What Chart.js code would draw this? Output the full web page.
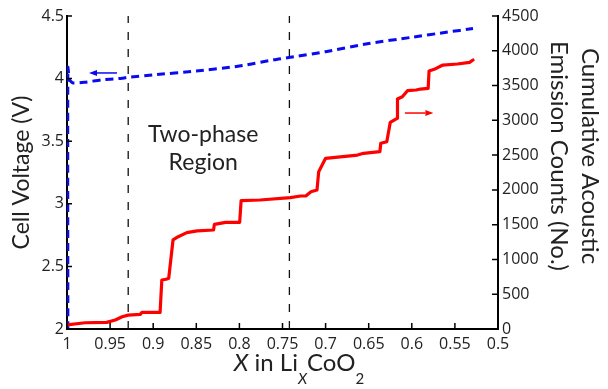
<!DOCTYPE html>
<html>
<head>
<meta charset="utf-8">
<script src="https://cdn.jsdelivr.net/npm/chart.js@4/dist/chart.umd.min.js"></script>
<style>
  html, body { margin: 0; padding: 0; background: #fff; }
  #wrap { width: 608px; height: 389px; }
</style>
</head>
<body>
<div id="wrap"><canvas id="c" width="608" height="389"></canvas></div>
<script>
// Lithium content x in LixCoO2 and cell voltage (V)
const voltageX = [0.999, 0.999, 0.997, 0.993, 0.98, 0.96, 0.94, 0.929, 0.9, 0.85, 0.8, 0.76, 0.741, 0.7, 0.65, 0.6, 0.56, 0.529];
const voltageV = [2.0, 4.09, 3.99, 3.965, 3.97, 3.99, 4.0, 4.01, 4.03, 4.06, 4.10, 4.15, 4.17, 4.215, 4.28, 4.33, 4.37, 4.40];

// Cumulative acoustic emission counts against x
const aeX = [1.0, 0.979, 0.954, 0.944, 0.936, 0.929, 0.915, 0.913, 0.892, 0.890, 0.885, 0.882, 0.877, 0.871, 0.861, 0.849,
             0.830, 0.829, 0.816, 0.7997, 0.798, 0.776, 0.741, 0.729, 0.723, 0.717, 0.710, 0.708, 0.700, 0.663, 0.656,
             0.637, 0.636, 0.629, 0.625, 0.617, 0.6166, 0.611, 0.605, 0.595, 0.590, 0.581, 0.580, 0.574, 0.564, 0.547,
             0.533, 0.529];
const aeCounts = [58, 90, 95, 130, 177, 200, 210, 240, 240, 705, 715, 730, 1280, 1327, 1385, 1410,
                  1423, 1505, 1534, 1534, 1845, 1855, 1888, 1912, 1912, 1974, 1998, 2262, 2454, 2501, 2526,
                  2550, 2670, 2693, 2971, 3029, 3307, 3340, 3426, 3436, 3450, 3460, 3709, 3733, 3795, 3810,
                  3834, 3867];

// Boundaries of the two-phase region
const phaseBounds = [0.929, 0.742];

// Axis tick values
const xTicks = [1, 0.95, 0.9, 0.85, 0.8, 0.75, 0.7, 0.65, 0.6, 0.55, 0.5];
const voltTicks = [2, 2.5, 3, 3.5, 4, 4.5];
const countTicks = [0, 500, 1000, 1500, 2000, 2500, 3000, 3500, 4000, 4500];

const FONT = "'Open Sans', 'Liberation Sans', sans-serif";
const TFONT = "Lato, 'Open Sans', sans-serif";
const INK = '#222';

const toPts = (xs, ys) => xs.map((x, i) => ({ x: x, y: ys[i] }));

const datasets = [
  {
    label: 'Cumulative AE counts',
    data: toPts(aeX, aeCounts),
    yAxisID: 'y2',
    borderColor: '#ff0000',
    borderWidth: 3.2,
    pointRadius: 0,
    tension: 0,
    borderJoinStyle: 'round',
    borderCapStyle: 'round'
  },
  {
    label: 'Cell voltage',
    data: toPts(voltageX, voltageV),
    yAxisID: 'y',
    borderColor: '#0a0af0',
    borderWidth: 3,
    borderDash: [8, 5],
    pointRadius: 0,
    tension: 0.2
  }
];
phaseBounds.forEach(b => {
  datasets.push({
    label: 'boundary',
    data: [{ x: b, y: 2 }, { x: b, y: 4.5 }],
    yAxisID: 'y',
    borderColor: '#111',
    borderWidth: 1.3,
    borderDash: [8, 9],
    pointRadius: 0
  });
});

function fixSize(prop, size) {
  return function (scale) {
    scale[prop] = size;
    scale.paddingTop = 0; scale.paddingBottom = 0;
    scale.paddingLeft = 0; scale.paddingRight = 0;
  };
}

function arrow(ctx, x1, y1, x2, y2, color) {
  ctx.save();
  ctx.strokeStyle = color; ctx.fillStyle = color; ctx.lineWidth = 1.5;
  const ang = Math.atan2(y2 - y1, x2 - x1);
  const hx = x2 - 8 * Math.cos(ang), hy = y2 - 8 * Math.sin(ang);
  ctx.beginPath(); ctx.moveTo(x1, y1); ctx.lineTo(hx, hy); ctx.stroke();
  ctx.beginPath();
  ctx.moveTo(x2, y2);
  ctx.lineTo(hx - 3 * Math.sin(ang), hy + 3 * Math.cos(ang));
  ctx.lineTo(hx + 3 * Math.sin(ang), hy - 3 * Math.cos(ang));
  ctx.closePath(); ctx.fill();
  ctx.restore();
}

const decorations = {
  id: 'decorations',
  afterDraw(chart) {
    const { ctx, chartArea: a, scales } = chart;
    const sx = scales.x, sy = scales.y, sy2 = scales.y2;
    ctx.save();
    // inward tick marks
    ctx.strokeStyle = '#000'; ctx.lineWidth = 1.5;
    ctx.beginPath();
    xTicks.forEach(v => { const p = sx.getPixelForValue(v); ctx.moveTo(p, a.bottom); ctx.lineTo(p, a.bottom - 6); });
    voltTicks.forEach(v => { const p = sy.getPixelForValue(v); ctx.moveTo(a.left, p); ctx.lineTo(a.left + 5, p); });
    countTicks.forEach(v => { const p = sy2.getPixelForValue(v); ctx.moveTo(a.right, p); ctx.lineTo(a.right - 6, p); });
    ctx.stroke();

    // region label
    ctx.fillStyle = INK;
    ctx.font = '23px ' + TFONT;
    ctx.textAlign = 'center'; ctx.textBaseline = 'alphabetic';
    const cx = sx.getPixelForValue(0.842);
    ctx.fillText('Two-phase', cx, sy.getPixelForValue(3.494));
    ctx.fillText('Region', cx, sy.getPixelForValue(3.27));

    // axis arrows
    arrow(ctx, sx.getPixelForValue(0.942), sy.getPixelForValue(4.045),
               sx.getPixelForValue(0.9745), sy.getPixelForValue(4.045), '#0a0af0');
    arrow(ctx, sx.getPixelForValue(0.608), sy2.getPixelForValue(3105),
               sx.getPixelForValue(0.575), sy2.getPixelForValue(3105), '#ff0000');

    // left axis title
    ctx.font = '23px ' + TFONT;
    ctx.save();
    ctx.translate(29, (a.top + a.bottom) / 2);
    ctx.rotate(-Math.PI / 2);
    ctx.textAlign = 'center';
    ctx.fillText('Cell Voltage (V)', 0, 0);
    ctx.restore();

    // right axis title (two lines)
    ctx.font = '24px ' + TFONT;
    ctx.save();
    ctx.translate(582, 156);
    ctx.rotate(Math.PI / 2);
    ctx.textAlign = 'center';
    ctx.fillText('Cumulative Acoustic', 0, 0);
    ctx.fillText('Emission Counts (No.)', 0, 31);
    ctx.restore();

    // x axis title: X in LiXCoO2
    const runs = [
      { t: 'X', f: 'italic 24px ' + TFONT, dy: 0 },
      { t: ' in Li', f: '24px ' + TFONT, dy: 0 },
      { t: 'X', f: 'italic 15px ' + TFONT, dy: 13 },
      { t: 'CoO', f: '24px ' + TFONT, dy: 0 },
      { t: '2', f: '15px ' + TFONT, dy: 13 }
    ];
    let total = 0;
    runs.forEach(r => { ctx.font = r.f; r.w = ctx.measureText(r.t).width; total += r.w; });
    let x0 = 299 - total / 2;
    ctx.textAlign = 'left';
    runs.forEach(r => { ctx.font = r.f; ctx.fillText(r.t, x0, 371 + r.dy); x0 += r.w; });
    ctx.restore();
  }
};

new Chart(document.getElementById('c'), {
  type: 'line',
  data: { datasets: datasets },
  options: {
    responsive: false,
    animation: false,
    layout: { padding: { top: 16, left: 0, right: 0, bottom: 0 } },
    plugins: { legend: { display: false }, tooltip: { enabled: false } },
    scales: {
      x: {
        type: 'linear',
        reverse: true,
        min: 0.5, max: 1,
        afterFit: fixSize('height', 60),
        afterBuildTicks(scale) { scale.ticks = xTicks.map(v => ({ value: v })); },
        grid: { display: false, drawTicks: false },
        border: { display: true, color: '#000', width: 2 },
        ticks: {
          padding: 6,
          color: INK,
          font: { family: FONT, size: 16 },
          maxRotation: 0,
          callback: v => String(parseFloat(Number(v).toFixed(2)))
        }
      },
      y: {
        type: 'linear',
        position: 'left',
        min: 2, max: 4.5,
        afterFit: fixSize('width', 67),
        afterBuildTicks(scale) { scale.ticks = voltTicks.map(v => ({ value: v })); },
        grid: { display: false, drawTicks: false },
        border: { display: true, color: '#000', width: 2 },
        ticks: {
          padding: 3,
          color: INK,
          font: { family: FONT, size: 16 },
          callback: v => String(v)
        }
      },
      y2: {
        type: 'linear',
        position: 'right',
        min: 0, max: 4500,
        afterFit: fixSize('width', 110),
        afterBuildTicks(scale) { scale.ticks = countTicks.map(v => ({ value: v })); },
        grid: { display: false, drawTicks: false },
        border: { display: true, color: '#000', width: 2 },
        ticks: {
          padding: 4,
          color: INK,
          font: { family: FONT, size: 16 },
          callback: v => String(v)
        }
      }
    }
  },
  plugins: [decorations]
});
</script>
</body>
</html>
